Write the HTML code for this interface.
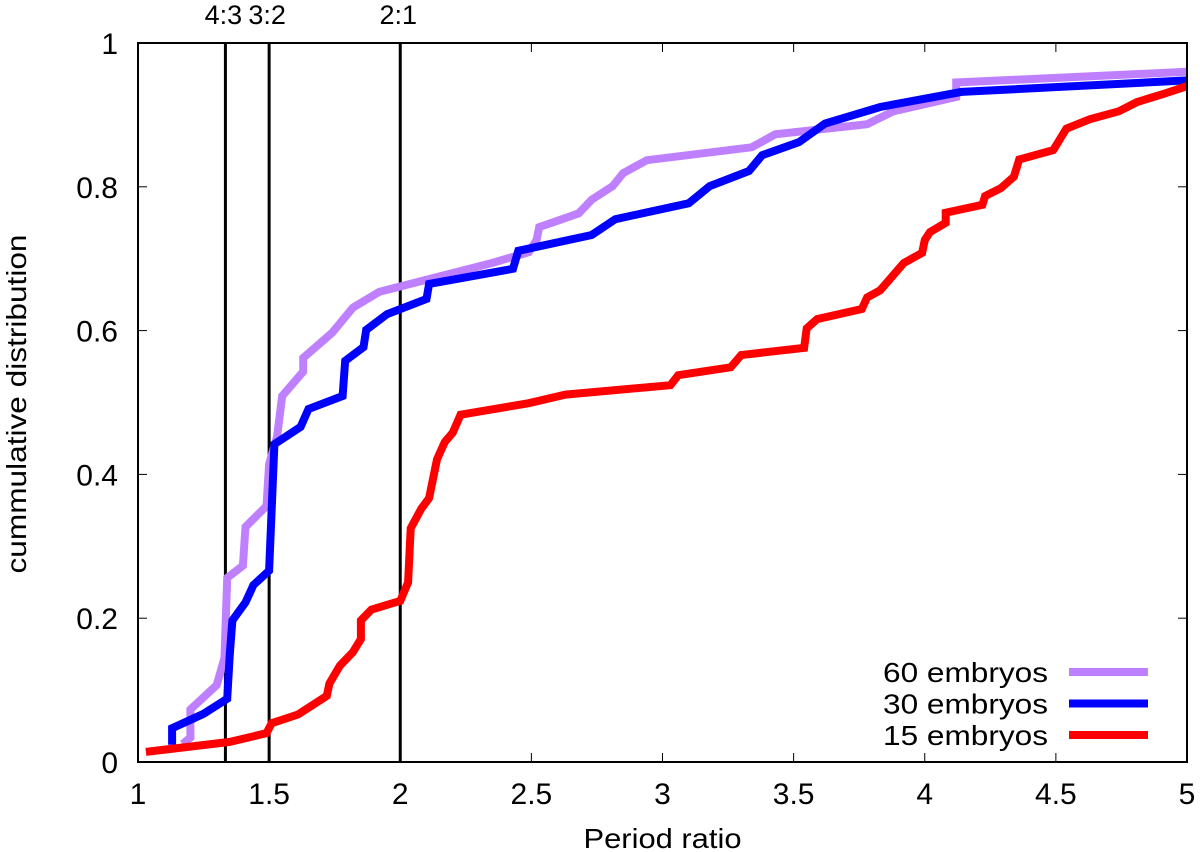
<!DOCTYPE html>
<html><head><meta charset="utf-8"><style>
body{margin:0;background:#fff}
svg{display:block;font-family:"Liberation Sans",Arial,sans-serif}
</style></head><body>
<svg id="chart" width="1200" height="852"></svg>
<script>
const xTicks=[1,1.5,2,2.5,3,3.5,4,4.5,5];
const xTickLabels=["1","1.5","2","2.5","3","3.5","4","4.5","5"];
const yTicks=[0,0.2,0.4,0.6,0.8,1];
const yTickLabels=["0","0.2","0.4","0.6","0.8","1"];
const resonances=[4/3,1.5,2];
const resonanceLabels=["4:3","3:2","2:1"];
const seriesNames=["60 embryos","30 embryos","15 embryos"];
const seriesColors=["#bf80ff","#0000ff","#ff0000"];
const x60=[1.17,1.20,1.20,1.30,1.33,1.34,1.40,1.41,1.49,1.50,1.53,1.55,1.63,1.63,1.74,1.82,1.92,2.35,2.49,2.52,2.53,2.68,2.73,2.81,2.85,2.94,3.34,3.43,3.78,3.88,4.12,4.12,5];
const y60=[0.025,0.034,0.073,0.107,0.145,0.256,0.273,0.327,0.356,0.414,0.452,0.509,0.543,0.562,0.597,0.632,0.654,0.694,0.709,0.726,0.744,0.763,0.782,0.801,0.819,0.837,0.855,0.873,0.887,0.905,0.925,0.945,0.96];
const x30=[1.13,1.13,1.25,1.34,1.35,1.36,1.41,1.44,1.50,1.52,1.62,1.65,1.78,1.79,1.86,1.87,1.95,2.10,2.11,2.43,2.45,2.73,2.82,3.10,3.18,3.33,3.38,3.52,3.62,3.83,4.14,5];
const y30=[0.024,0.047,0.067,0.088,0.150,0.197,0.222,0.246,0.266,0.442,0.466,0.491,0.509,0.558,0.577,0.601,0.623,0.644,0.665,0.686,0.711,0.733,0.755,0.777,0.801,0.822,0.844,0.862,0.888,0.911,0.932,0.948];
const x15=[1.03,1.35,1.49,1.51,1.61,1.72,1.73,1.77,1.82,1.85,1.85,1.89,2.0,2.03,2.04,2.08,2.11,2.14,2.17,2.20,2.23,2.49,2.63,3.03,3.06,3.26,3.30,3.54,3.55,3.59,3.76,3.78,3.83,3.92,3.99,4.00,4.02,4.08,4.08,4.22,4.23,4.29,4.34,4.36,4.49,4.54,4.63,4.74,4.81,4.91,5];
const y15=[0.014,0.028,0.04,0.054,0.066,0.092,0.109,0.134,0.153,0.171,0.197,0.212,0.224,0.250,0.325,0.352,0.367,0.421,0.445,0.458,0.483,0.499,0.511,0.524,0.538,0.549,0.566,0.576,0.603,0.616,0.630,0.646,0.656,0.694,0.708,0.726,0.737,0.750,0.764,0.775,0.787,0.798,0.814,0.838,0.851,0.881,0.894,0.905,0.918,0.929,0.94];

const L=138,R=1187,T=43,B=762;
const sx=v=>L+(v-1)/4*(R-L);
const sy=v=>B-v*(B-T);
const svg=document.getElementById('chart');
const NS='http://www.w3.org/2000/svg';
function mk(tag,attrs,parent){const e=document.createElementNS(NS,tag);for(const k in attrs)e.setAttribute(k,attrs[k]);(parent||svg).appendChild(e);return e;}

const defs=mk('defs',{});
const cp=mk('clipPath',{id:'clip'},defs);
mk('rect',{x:L,y:T,width:R-L,height:B-T},cp);

xTicks.forEach((t,i)=>{
  const x=sx(t);
  const a=mk('line',{x1:x,y1:B,x2:x,y2:B-9,stroke:'#000','stroke-width':1});
  
  
  const b=mk('line',{x1:x,y1:T,x2:x,y2:T+9,stroke:'#000','stroke-width':1});
  
  
  const tx=mk('text',{x:x,y:804,'text-anchor':'middle','font-size':30});
  tx.textContent=xTickLabels[i];
  
  
});
yTicks.forEach((t,i)=>{
  const y=sy(t);
  const a=mk('line',{x1:L,y1:y,x2:L+9,y2:y,stroke:'#000','stroke-width':1});
  
  
  const b=mk('line',{x1:R,y1:y,x2:R-9,y2:y,stroke:'#000','stroke-width':1});
  
  
  const tx=mk('text',{x:118,y:y+11,'text-anchor':'end','font-size':30});
  tx.textContent=yTickLabels[i];
  
  
});

resonances.forEach((r,i)=>{
  const x=sx(r);
  const l=mk('line',{x1:x,y1:T,x2:x,y2:B,stroke:'#000','stroke-width':3});
  
  
  const tx=mk('text',{x:x-2,y:24,'text-anchor':'middle','font-size':27});
  tx.textContent=resonanceLabels[i];
  
  
});

const xs=[x60,x30,x15], ys=[y60,y30,y15];
const g=mk('g',{'clip-path':'url(#clip)'});


[0,1,2].forEach(s=>{
  const pts=xs[s].map((v,i)=>sx(v).toFixed(1)+','+sy(ys[s][i]).toFixed(1)).join(' ');
  const p=mk('polyline',{points:pts,fill:'none',stroke:seriesColors[s],'stroke-width':8,'stroke-linejoin':'miter'},g);
  
  
});

seriesNames.forEach((n,i)=>{
  const y=672+i*31.5;
  const tx=mk('text',{x:1048,y:y+10,'text-anchor':'end','font-size':28,textLength:165,lengthAdjust:'spacingAndGlyphs'});
  tx.textContent=n;
  
  
  const l=mk('line',{x1:1069,y1:y,x2:1148,y2:y,stroke:seriesColors[i],'stroke-width':8});
  
  
});

const f=mk('rect',{x:L,y:T,width:R-L,height:B-T,fill:'none',stroke:'#000','stroke-width':2});



const xt=mk('text',{x:(L+R)/2,y:848,'text-anchor':'middle','font-size':28,textLength:158,lengthAdjust:'spacingAndGlyphs'});
xt.textContent='Period ratio';


const yt=mk('text',{x:0,y:0,'text-anchor':'middle','font-size':28,textLength:339,lengthAdjust:'spacingAndGlyphs',transform:'translate(26,404) rotate(-90)'});
yt.textContent='cummulative distribution';


</script>
</body></html>
